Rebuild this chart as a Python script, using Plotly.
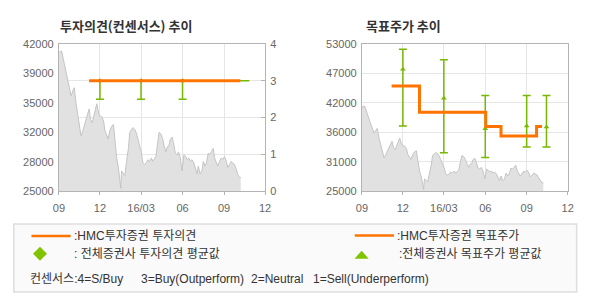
import plotly.graph_objects as go

# ---------------- data ----------------
price_dates = [
    "2015-09-01","2015-09-07","2015-09-10","2015-09-14","2015-09-17","2015-09-21","2015-09-24","2015-09-28",
    "2015-10-02","2015-10-05","2015-10-09","2015-10-13","2015-10-16","2015-10-20","2015-10-23","2015-10-27",
    "2015-10-30","2015-11-03","2015-11-07","2015-11-10","2015-11-14","2015-11-17","2015-11-21","2015-11-24",
    "2015-11-28","2015-12-02","2015-12-05","2015-12-09","2015-12-12","2015-12-16","2015-12-19","2015-12-23",
    "2015-12-27","2015-12-31","2016-01-04","2016-01-07","2016-01-11","2016-01-15","2016-01-16","2016-01-18",
    "2016-01-22","2016-01-25","2016-01-29","2016-02-02","2016-02-05","2016-02-09","2016-02-12","2016-02-16",
    "2016-02-19","2016-02-23","2016-02-27","2016-03-02","2016-03-05","2016-03-09","2016-03-13","2016-03-16",
    "2016-03-20","2016-03-24","2016-03-27","2016-04-03","2016-04-07","2016-04-10","2016-04-14","2016-04-18",
    "2016-04-21","2016-04-25","2016-04-28","2016-05-02","2016-05-05","2016-05-09","2016-05-13","2016-05-16",
    "2016-05-20","2016-05-23","2016-05-27","2016-05-31","2016-06-04","2016-06-08","2016-06-11","2016-06-15",
    "2016-06-18","2016-06-22","2016-06-26","2016-06-29","2016-07-03","2016-07-06","2016-07-10","2016-07-14",
    "2016-07-17","2016-07-21","2016-07-24","2016-07-28","2016-07-31","2016-08-04","2016-08-08","2016-08-11",
    "2016-08-15","2016-08-18","2016-08-22","2016-08-26","2016-08-29","2016-09-02","2016-09-06","2016-09-09",
    "2016-09-13","2016-09-17","2016-09-20","2016-09-24","2016-09-28","2016-10-01","2016-10-05","2016-10-08",
]
price_values = [
    41000,41200,40450,39500,38600,37700,36950,36000,
    36600,36950,35100,33600,32700,31400,31800,32500,
    32900,33600,34500,33300,32900,33600,34500,35100,
    34000,33600,33600,33100,32000,31400,31050,32000,
    32500,32700,30700,28850,27700,26250,25350,27350,
    27000,26800,28450,29950,31800,32150,32350,32150,
    31800,31050,30300,29400,28300,28100,28300,28650,
    28450,28850,28450,29000,30650,31800,31600,31050,
    30300,29550,30100,30300,31050,31250,30300,29400,
    29200,29550,28850,27350,29200,29000,28650,28850,
    28450,28650,28300,27750,27000,27900,27000,27350,
    28450,27900,28300,29400,29200,29550,29950,28850,
    28300,27900,28450,28850,28650,29000,28450,27750,
    28100,28450,28300,28100,27550,27000,26600,26600,
]

# HMC opinion (left chart) and consensus average opinion
opinion_dates = ["2015-11-07", "2016-10-07"]
opinion_values = [3, 3]
cons_op_line_dates = ["2015-11-07", "2016-10-27"]
cons_op_line_values = [3, 3]
cons_op_dates = ["2015-12-01", "2016-03-01", "2016-06-01"]
cons_op_mean = [3, 3, 3]
cons_op_max = [3, 3, 3]
cons_op_min = [2.5, 2.5, 2.5]

# HMC target price (right chart, step line)
target_dates = ["2015-11-06", "2016-01-07", "2016-06-02", "2016-07-06", "2016-09-23", "2016-10-05"]
target_values = [45000, 40000, 37300, 35500, 37300, 37300]

# consensus target price
cons_tp_dates = ["2015-12-01", "2016-03-01", "2016-06-01", "2016-09-01", "2016-10-15"]
cons_tp_mean = [48200, 42700, 36900, 37400, 37200]
cons_tp_max = [52000, 50000, 43200, 43200, 43200]
cons_tp_min = [37400, 32300, 31400, 33400, 33400]

# axes / tick labels
x_tickvals = ["2015-09-01", "2015-12-01", "2016-03-01", "2016-06-01", "2016-09-01", "2016-12-01"]
x_ticktext = ["09", "12", "16/03", "06", "09", "12"]
left_price_ticks = [25000, 28400, 31800, 35200, 38600, 42000]
right_price_ticks = [25000, 30600, 36200, 41800, 47400, 53000]
opinion_ticks = [0, 1, 2, 3, 4]

ORANGE = "#ff7300"
GREEN = "#77b800"
AREA_FILL = "#e1e1e1"
AREA_LINE = "#c4c4c4"
GRID = "#e6e6e6"
AXIS = "#b4b4b4"
TICKFONT = dict(family="Liberation Sans, Arial, sans-serif", size=11, color="#666666")
KFONT = "Noto Sans CJK KR"

W, H = 590, 300


def px_x(p):
    return p / W


def px_y(p):
    return 1 - p / H


fig = go.Figure()

# ---------- left chart ----------
fig.add_trace(go.Scatter(x=price_dates, y=price_values, mode="lines", fill="tozeroy",
                         fillcolor=AREA_FILL, line=dict(color=AREA_LINE, width=1),
                         xaxis="x", yaxis="y", hoverinfo="skip", showlegend=False))
fig.add_trace(go.Scatter(x=cons_op_line_dates, y=cons_op_line_values, mode="lines",
                         line=dict(color=GREEN, width=1.5), xaxis="x", yaxis="y2", showlegend=False))
fig.add_trace(go.Scatter(
    x=cons_op_dates, y=cons_op_mean, mode="markers",
    marker=dict(symbol="diamond", size=4, color=GREEN),
    error_y=dict(type="data", symmetric=False,
                 array=[a - m for a, m in zip(cons_op_max, cons_op_mean)],
                 arrayminus=[m - b for b, m in zip(cons_op_min, cons_op_mean)],
                 color=GREEN, thickness=1.5, width=4),
    xaxis="x", yaxis="y2", showlegend=False))
fig.add_trace(go.Scatter(x=opinion_dates, y=opinion_values, mode="lines",
                         line=dict(color=ORANGE, width=3), xaxis="x", yaxis="y2", showlegend=False))

# ---------- right chart ----------
fig.add_trace(go.Scatter(x=price_dates, y=price_values, mode="lines", fill="tozeroy",
                         fillcolor=AREA_FILL, line=dict(color=AREA_LINE, width=1),
                         xaxis="x2", yaxis="y3", hoverinfo="skip", showlegend=False))
fig.add_trace(go.Scatter(
    x=cons_tp_dates, y=cons_tp_mean, mode="markers",
    marker=dict(symbol="triangle-up", size=5, color=GREEN),
    error_y=dict(type="data", symmetric=False,
                 array=[a - m for a, m in zip(cons_tp_max, cons_tp_mean)],
                 arrayminus=[m - b for b, m in zip(cons_tp_min, cons_tp_mean)],
                 color=GREEN, thickness=1.5, width=4),
    xaxis="x2", yaxis="y3", showlegend=False))
fig.add_trace(go.Scatter(x=target_dates, y=target_values, mode="lines",
                         line=dict(color=ORANGE, width=3, shape="hv"),
                         xaxis="x2", yaxis="y3", showlegend=False))

xcommon = dict(type="date", range=[x_tickvals[0], x_tickvals[-1]], tickmode="array",
               tickvals=x_tickvals, ticktext=x_ticktext, showgrid=True, gridcolor=GRID,
               gridwidth=1, showline=True, linecolor=AXIS, linewidth=1, mirror=True,
               ticks="outside", ticklen=3, tickcolor=AXIS, tickfont=TICKFONT,
               zeroline=False, fixedrange=True, ticklabelstandoff=4)

ydom = [px_y(193), px_y(39.5)]

fig.update_layout(
    width=W, height=H, margin=dict(l=0, r=0, t=0, b=0),
    paper_bgcolor="white", plot_bgcolor="white", showlegend=False,
    xaxis=dict(domain=[px_x(54), px_x(264.5)], anchor="y", **xcommon),
    yaxis=dict(domain=ydom, range=[left_price_ticks[0], left_price_ticks[-1]], tickmode="array",
               tickvals=left_price_ticks,
               ticktext=[str(int(round(v / 1000.0)) * 1000) for v in left_price_ticks],
               showgrid=False, showline=True, linecolor=AXIS, mirror=True, ticks="",
               tickfont=TICKFONT, zeroline=False, ticklabelstandoff=2),
    yaxis2=dict(overlaying="y", side="right", anchor="x", range=[opinion_ticks[0], opinion_ticks[-1]],
                tickmode="array", tickvals=opinion_ticks, showgrid=True, gridcolor=GRID,
                showline=True, linecolor=AXIS, ticks="inside", ticklen=4, tickcolor=AXIS,
                tickfont=TICKFONT, zeroline=False, ticklabelstandoff=2),
    xaxis2=dict(domain=[px_x(363.3), px_x(573.3)], anchor="y3", **xcommon),
    yaxis3=dict(domain=ydom, anchor="x2", range=[right_price_ticks[0], right_price_ticks[-1]],
                tickmode="array", tickvals=right_price_ticks,
                ticktext=[str(int(round(v / 1000.0)) * 1000) for v in right_price_ticks],
                showgrid=True, gridcolor=GRID, showline=True, linecolor=AXIS, mirror=True,
                ticks="", tickfont=TICKFONT, zeroline=False, ticklabelstandoff=2),
)

ann = []
# titles
ann.append(dict(text="<b>투자의견(컨센서스) 추이</b>", x=px_x(53), y=px_y(20), xanchor="left",
                yanchor="middle", xref="paper", yref="paper", showarrow=False,
                font=dict(family=KFONT, size=13, color="#333333")))
ann.append(dict(text="<b>목표주가 추이</b>", x=px_x(365), y=px_y(20), xanchor="left",
                yanchor="middle", xref="paper", yref="paper", showarrow=False,
                font=dict(family=KFONT, size=13, color="#333333")))

LFONT = dict(family="Liberation Sans, Noto Sans CJK KR, sans-serif", size=12, color="#333333")
legend_texts = [
    (":HMC투자증권 투자의견", 67, 240),
    (": 전체증권사 투자의견 평균값", 67, 258),
    (":HMC투자증권 목표주가", 397, 240),
    (":전체증권사 목표주가 평균값", 399, 258),
    ("컨센서스:4=S/Buy", 22, 284),
    ("3=Buy(Outperform)", 136, 284),
    ("2=Neutral", 248, 284),
    ("1=Sell(Underperform)", 311, 284),
]
for t, xx, yy in legend_texts:
    ann.append(dict(text=t, x=px_x(xx), y=px_y(yy), xanchor="left", yanchor="middle",
                    xref="paper", yref="paper", showarrow=False, font=LFONT))
fig.update_layout(annotations=ann)

shapes = []
# legend box
shapes.append(dict(type="rect", xref="paper", yref="paper", x0=px_x(8), x1=px_x(582.5),
                   y0=px_y(227), y1=px_y(298), fillcolor="#fafafa",
                   line=dict(color="#dedede", width=1.5), layer="below"))
# legend swatches
shapes.append(dict(type="line", xref="paper", yref="paper", x0=px_x(26), x1=px_x(66),
                   y0=px_y(239.5), y1=px_y(239.5), line=dict(color=ORANGE, width=2.5)))
shapes.append(dict(type="line", xref="paper", yref="paper", x0=px_x(356), x1=px_x(396),
                   y0=px_y(239), y1=px_y(239), line=dict(color=ORANGE, width=2.5)))
shapes.append(dict(type="path", xref="paper", yref="paper", xsizemode="pixel", ysizemode="pixel",
                   xanchor=px_x(34.7), yanchor=px_y(258),
                   path="M 0 7 L 7 0 L 0 -7 L -7 0 Z", fillcolor="#80c400", line=dict(width=0)))
shapes.append(dict(type="path", xref="paper", yref="paper", xsizemode="pixel", ysizemode="pixel",
                   xanchor=px_x(363), yanchor=px_y(259),
                   path="M -7 -4 L 0 4 L 7 -4 Z", fillcolor="#80c400", line=dict(width=0)))
fig.update_layout(shapes=shapes)

fig.write_html("out.html")
